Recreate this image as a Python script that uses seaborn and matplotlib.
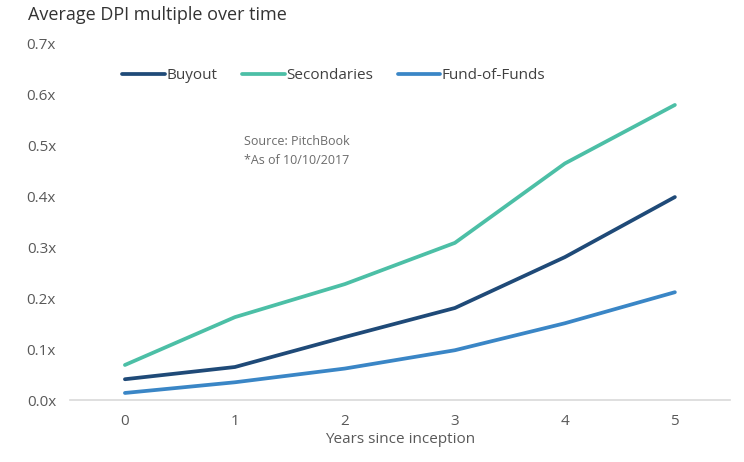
import matplotlib
matplotlib.use("Agg")
import matplotlib.pyplot as plt
import seaborn as sns
import pandas as pd

years = [0, 1, 2, 3, 4, 5]
buyout = [0.041, 0.065, 0.124, 0.181, 0.281, 0.399]
secondaries = [0.069, 0.163, 0.228, 0.309, 0.465, 0.580]
fund_of_funds = [0.014, 0.035, 0.062, 0.098, 0.151, 0.212]
series_names = ["Buyout", "Secondaries", "Fund-of-Funds"]
y_ticks = [0.0, 0.1, 0.2, 0.3, 0.4, 0.5, 0.6, 0.7]

colors = {"Buyout": "#1f4a78", "Secondaries": "#4cbfa6", "Fund-of-Funds": "#3a86c6"}


def build_frame():
    rows = []
    for name, vals in zip(series_names, [buyout, secondaries, fund_of_funds]):
        for x, v in zip(years, vals):
            rows.append({"year": x, "dpi": v, "series": name})
    return pd.DataFrame(rows)


def draw(df):
    sns.set_style("white")
    plt.rcParams['font.family'] = ['Open Sans', 'DejaVu Sans']
    fig = plt.figure(figsize=(7.44, 4.62), dpi=100)
    ax = fig.add_axes([0.094, 0.134, 0.887, 0.771])
    sns.lineplot(data=df, x="year", y="dpi", hue="series", hue_order=series_names,
                 palette=colors, linewidth=2.7, ax=ax, legend=True)

    ax.set_xlim(-0.5, 5.5)
    ax.set_ylim(0, 0.7)
    ax.set_xticks(years)
    ax.set_yticks(y_ticks)
    ax.set_yticklabels([f"{t:.1f}x" for t in y_ticks])
    for s in ["top", "right", "left"]:
        ax.spines[s].set_visible(False)
    ax.spines["bottom"].set_color("#d9d9d9")
    ax.spines["bottom"].set_linewidth(1.2)
    ax.tick_params(axis="both", length=0, labelsize=11, colors="#595959", pad=10)
    ax.set_xlabel("Years since inception", fontsize=11, color="#595959", labelpad=2)
    ax.set_ylabel("")

    leg = ax.legend(loc="upper center", bbox_to_anchor=(0.40, 0.97), ncol=3, frameon=False,
                    fontsize=11, handlelength=2.8, handletextpad=0.1, columnspacing=1.6)
    for t in leg.get_texts():
        t.set_color("#404040")

    fig.text(0.038, 0.968, "Average DPI multiple over time", fontsize=13, color="#333333",
             va="center", ha="left")
    ax.text(0.344, 0.70, "Source: PitchBook\n*As of 10/10/2017", transform=ax.transAxes,
            ha="center", va="center", multialignment="center", fontsize=9,
            color="#6b6b6b", linespacing=1.6)

    fig.savefig("out.png", dpi=100)


if __name__ == "__main__":
    draw(build_frame())
